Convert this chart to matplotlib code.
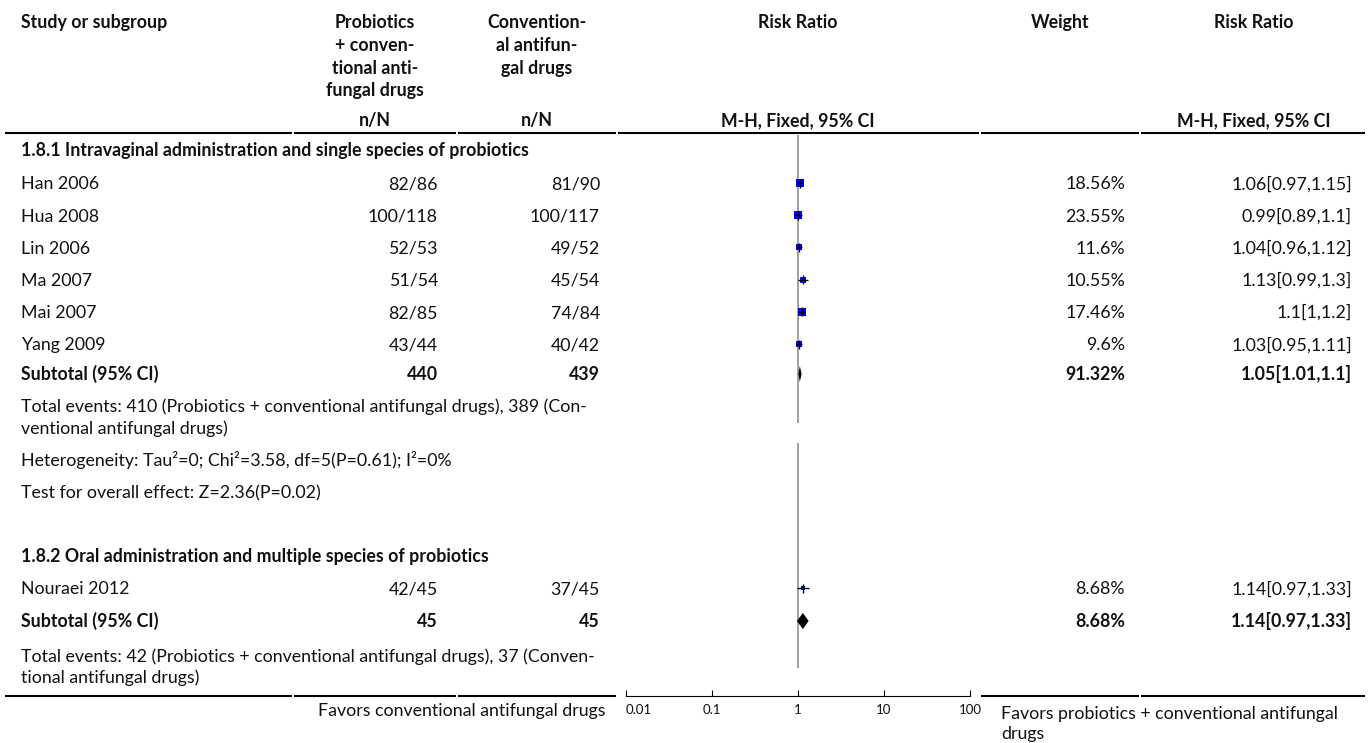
import numpy as np
import matplotlib
matplotlib.use('Agg')
import matplotlib.pyplot as plt

plt.rcParams['font.family'] = ['Lato', 'DejaVu Sans']

# ---- data -------------------------------------------------------------
group1_title = '1.8.1 Intravaginal administration and single species of probiotics'
group1_studies = ['Han 2006', 'Hua 2008', 'Lin 2006', 'Ma 2007', 'Mai 2007', 'Yang 2009']
group1_ev_exp = [82, 100, 52, 51, 82, 43]
group1_n_exp = [86, 118, 53, 54, 85, 44]
group1_ev_ctl = [81, 100, 49, 45, 74, 40]
group1_n_ctl = [90, 117, 52, 54, 84, 42]
group1_weight = [18.56, 23.55, 11.6, 10.55, 17.46, 9.6]
group1_rr = [1.06, 0.99, 1.04, 1.13, 1.1, 1.03]
group1_lo = [0.97, 0.89, 0.96, 0.99, 1, 0.95]
group1_hi = [1.15, 1.1, 1.12, 1.3, 1.2, 1.11]
group1_total = (440, 439, 91.32, 1.05, 1.01, 1.1)
group1_events = ['Total events: 410 (Probiotics + conventional antifungal drugs), 389 (Con-',
                 'ventional antifungal drugs)']
group1_het = 'Heterogeneity: Tau\u00b2=0; Chi\u00b2=3.58, df=5(P=0.61); I\u00b2=0%'
group1_test = 'Test for overall effect: Z=2.36(P=0.02)'

group2_title = '1.8.2 Oral administration and multiple species of probiotics'
group2_studies = ['Nouraei 2012']
group2_ev_exp = [42]
group2_n_exp = [45]
group2_ev_ctl = [37]
group2_n_ctl = [45]
group2_weight = [8.68]
group2_rr = [1.14]
group2_lo = [0.97]
group2_hi = [1.33]
group2_total = (45, 45, 8.68, 1.14, 0.97, 1.33)
group2_events = ['Total events: 42 (Probiotics + conventional antifungal drugs), 37 (Conven-',
                 'tional antifungal drugs)']

ticks = [0.01, 0.1, 1, 10, 100]
tick_labels = ['0.01', '0.1', '1', '10', '100']
favors_left = 'Favors conventional antifungal drugs'
favors_right = ['Favors probiotics + conventional antifungal', 'drugs']

# ---- layout (pixels) --------------------------------------------------
W, H = 1370, 743
FS = 12.8
TXT = '#111111'
cols = [4, 293, 457, 617, 980, 1140, 1366]
X_LEFT = 21
X_N1, X_N2 = 438, 600
X_WT, X_RR = 1125, 1352
C_N1, C_N2, C_FP, C_WT, C_RR = 375, 537, 798, 1060, 1254
Y_TOP_RULE, Y_BOT_RULE = 133, 696
ROW = 32.2

fig = plt.figure(figsize=(W / 100, H / 100), dpi=100)
ax = fig.add_axes([0, 0, 1, 1])
ax.set_xlim(0, W)
ax.set_ylim(H, 0)
ax.axis('off')


def txt(x, y, s, ha='left', bold=False, size=FS):
    ax.text(x, y + 6.3, s, ha=ha, va='baseline', fontsize=size,
            fontweight='bold' if bold else 'normal', color=TXT)


# header
txt(X_LEFT, 22, 'Study or subgroup', bold=True)
for i, line in enumerate(['Probiotics', '+ conven-', 'tional anti-', 'fungal drugs']):
    txt(C_N1, 22 + 22.7 * i, line, ha='center', bold=True)
for i, line in enumerate(['Convention-', 'al antifun-', 'gal drugs']):
    txt(C_N2, 22 + 22.7 * i, line, ha='center', bold=True)
txt(C_FP, 22, 'Risk Ratio', ha='center', bold=True)
txt(C_WT, 22, 'Weight', ha='center', bold=True)
txt(C_RR, 22, 'Risk Ratio', ha='center', bold=True)
txt(C_N1, 120, 'n/N', ha='center', bold=True)
txt(C_N2, 120, 'n/N', ha='center', bold=True)
txt(C_FP, 120, 'M-H, Fixed, 95% CI', ha='center', bold=True)
txt(C_RR, 120, 'M-H, Fixed, 95% CI', ha='center', bold=True)

# rules split per column
for a, b in zip(cols[:-1], cols[1:]):
    ax.plot([a + 1, b - 1], [Y_TOP_RULE, Y_TOP_RULE], color='black', lw=1.5,
            solid_capstyle='butt')
    if a != 617:
        ax.plot([a + 1, b - 1], [Y_BOT_RULE, Y_BOT_RULE], color='black', lw=1.5,
                solid_capstyle='butt')

# forest axes in the plot column (y in the same pixel units)
axf = fig.add_axes([626 / W, (H - Y_BOT_RULE) / H, (970 - 626) / W,
                    (Y_BOT_RULE - Y_TOP_RULE) / H])
axf.set_xscale('log')
axf.set_xlim(0.01, 100)
axf.set_ylim(Y_BOT_RULE, Y_TOP_RULE)
axf.patch.set_alpha(0)
for side in ['top', 'left', 'right']:
    axf.spines[side].set_visible(False)
axf.spines['bottom'].set_linewidth(0.8)
axf.set_yticks([])
axf.set_xticks(ticks)
axf.set_xticklabels(tick_labels)
axf.minorticks_off()
axf.tick_params(axis='x', direction='in', length=4, width=0.8, pad=6,
                labelsize=9.5, labelcolor=TXT)
axf.get_xticklabels()[0].set_horizontalalignment('left')

axf.vlines(1, 135, 423, color='#9a9a9a', lw=1.3)
axf.vlines(1, 443, 668, color='#9a9a9a', lw=1.3)


def study_rows(y0, studies, ev1, n1, ev2, n2, wt, rr, lo, hi):
    for i, name in enumerate(studies):
        y = y0 + ROW * i
        txt(X_LEFT, y, name)
        txt(X_N1, y, f'{ev1[i]}/{n1[i]}', ha='right')
        txt(X_N2, y, f'{ev2[i]}/{n2[i]}', ha='right')
        txt(X_WT, y, f'{wt[i]:g}%', ha='right')
        txt(X_RR, y, f'{rr[i]:g}[{lo[i]:g},{hi[i]:g}]', ha='right')
        side = 8.2 * np.sqrt(wt[i] / 23.55) * 0.72
        axf.scatter([rr[i]], [y], marker='s', s=side ** 2, color='#0000ff',
                    linewidths=0, zorder=3)
        # CI line and centre tick drawn over the square
        axf.hlines(y, lo[i], hi[i], color='black', lw=1, zorder=4)
        axf.vlines(rr[i], y - 4.5, y + 4.5, color='black', lw=1, zorder=4)


def subtotal(y, tot):
    n1, n2, w, rr, lo, hi = tot
    txt(X_LEFT, y, 'Subtotal (95% CI)', bold=True)
    txt(X_N1, y, f'{n1}', ha='right', bold=True)
    txt(X_N2, y, f'{n2}', ha='right', bold=True)
    txt(X_WT, y, f'{w:g}%', ha='right', bold=True)
    txt(X_RR, y, f'{rr:g}[{lo:g},{hi:g}]', ha='right', bold=True)
    axf.fill([lo, rr, hi, rr], [y, y - 8, y, y + 8], color='black', lw=0,
             zorder=3)


# group 1
txt(X_LEFT, 150, group1_title, bold=True)
study_rows(183, group1_studies, group1_ev_exp, group1_n_exp, group1_ev_ctl,
           group1_n_ctl, group1_weight, group1_rr, group1_lo, group1_hi)
subtotal(374, group1_total)
txt(X_LEFT, 406, group1_events[0])
txt(X_LEFT, 428, group1_events[1])
txt(X_LEFT, 460, group1_het)
txt(X_LEFT, 492, group1_test)

# group 2
txt(X_LEFT, 556, group2_title, bold=True)
study_rows(588, group2_studies, group2_ev_exp, group2_n_exp, group2_ev_ctl,
           group2_n_ctl, group2_weight, group2_rr, group2_lo, group2_hi)
subtotal(621, group2_total)
txt(X_LEFT, 656, group2_events[0])
txt(X_LEFT, 677, group2_events[1])

# favors labels
txt(606, 710, favors_left, ha='right')
txt(1001, 713, favors_right[0])
txt(1001, 733, favors_right[1])

fig.savefig('out.png', dpi=100)
